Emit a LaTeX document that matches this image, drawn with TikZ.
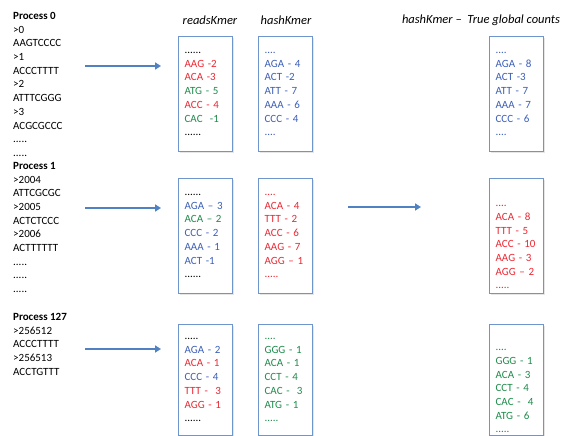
\documentclass[tikz,border=0pt]{standalone}
\usepackage{fontspec}
\setmainfont{Carlito}
\usetikzlibrary{arrows.meta,shadows}
\definecolor{redk}{RGB}{238,40,50}
\definecolor{grnk}{RGB}{30,140,75}
\definecolor{bluk}{RGB}{60,95,185}
\definecolor{boxb}{RGB}{110,150,205}
\definecolor{arrb}{RGB}{80,130,195}

\newcommand{\R}[1]{\textcolor{redk}{#1}}
\newcommand{\G}[1]{\textcolor{grnk}{#1}}
\newcommand{\B}[1]{\textcolor{bluk}{#1}}

\begin{document}
\begin{tikzpicture}[x=1pt,y=-1pt,
  txt/.style={anchor=north west,align=left,inner sep=0pt,font=\fontsize{11}{13.7}\selectfont},
  kbox/.style={draw=boxb,line width=1.2pt,fill=white,anchor=north west,align=left,
    minimum width=54pt,minimum height=115pt,text width=42pt,inner xsep=6pt,inner ysep=0pt,
    font=\fontsize{11}{13.7}\selectfont,
    drop shadow={opacity=0.2,shadow xshift=1pt,shadow yshift=-1pt}},
  lowbox/.style={kbox,minimum height=111pt},
  ttl/.style={font=\fontsize{12.5}{14}\selectfont\itshape},
  flow/.style={draw=arrb,line width=2.2pt,-{Triangle[length=6pt,width=7pt]}}]
\clip (0,0) rectangle (566,436);

\node[txt] (p0) at (13,12) {\textbf{Process 0}\\>0\\AAGTCCCC\\>1\\ACCCTTTT\\>2\\ATTTCGGG\\>3\\ACGCGCCC\\.....\\.....};
\node[txt] (p1) at (13,162) {\textbf{Process 1}\\>2004\\ATTCGCGC\\>2005\\ACTCTCCC\\>2006\\ACTTTTTT\\.....\\.....\\.....};
\node[txt] (p127) at (13,313) {\textbf{Process 127}\\>256512\\ACCCTTTT\\>256513\\ACCTGTTT};

\node[ttl] (tr) at (210,20) {readsKmer};
\node[ttl] (th) at (286,20) {hashKmer};
\node[ttl] (tg) at (481,20) {hashKmer --\ \ True global counts};

\node[kbox] (r0) at (178,36) {......\\\R{AAG -2}\\\R{ACA -3}\\\G{ATG - 5}\\\R{ACC - 4}\\\G{CAC\ \ -1}\\......};
\node[kbox] (h0) at (258,36) {\color{bluk}....\\AGA - 4\\ACT -2\\ATT - 7\\AAA - 6\\CCC - 4\\....};
\node[kbox] (g0) at (489,36) {\color{bluk}....\\AGA - 8\\ACT -3\\ATT - 7\\AAA - 7\\CCC - 6\\....};

\node[kbox] (r1) at (178,178) {......\\\B{AGA -- 3}\\\G{ACA -- 2}\\\B{CCC - 2}\\\B{AAA - 1}\\\B{ACT -1}\\......};
\node[kbox] (h1) at (258,178) {\color{redk}....\\ACA - 4\\TTT - 2\\ACC - 6\\AAG - 7\\AGG -- 1\\.....};
\node[kbox] (g1) at (489,178) {\color{redk}\strut\\....\\ACA - 8\\TTT - 5\\ACC - 10\\AAG - 3\\AGG -- 2\\.....};

\node[lowbox] (r2) at (178,324) {.....\\\B{AGA - 2}\\\R{ACA - 1}\\\B{CCC - 4}\\\R{TTT -\ \ 3}\\\R{AGG - 1}\\......};
\node[lowbox] (h2) at (258,324) {\color{grnk}....\\GGG - 1\\ACA - 1\\CCT - 4\\CAC -\ \ 3\\ATG - 1\\.....};
\node[lowbox] (g2) at (489,324) {\color{grnk}\strut\\....\\GGG - 1\\ACA - 3\\CCT - 4\\CAC -\ \ 4\\ATG - 6\\.....};

\coordinate (a0) at (85,66);
\coordinate (a1) at (85,208);
\coordinate (a2) at (85,349);
\coordinate (m1) at (348,207);

\draw[flow] (a0) -- ([xshift=-17pt]a0 -| r0.west);
\draw[flow] (a1) -- ([xshift=-17pt]a1 -| r1.west);
\draw[flow] (a2) -- ([xshift=-17pt]a2 -| r2.west);
\draw[flow] (m1) -- ([xshift=-68pt]m1 -| g1.west);
\end{tikzpicture}
\end{document}
